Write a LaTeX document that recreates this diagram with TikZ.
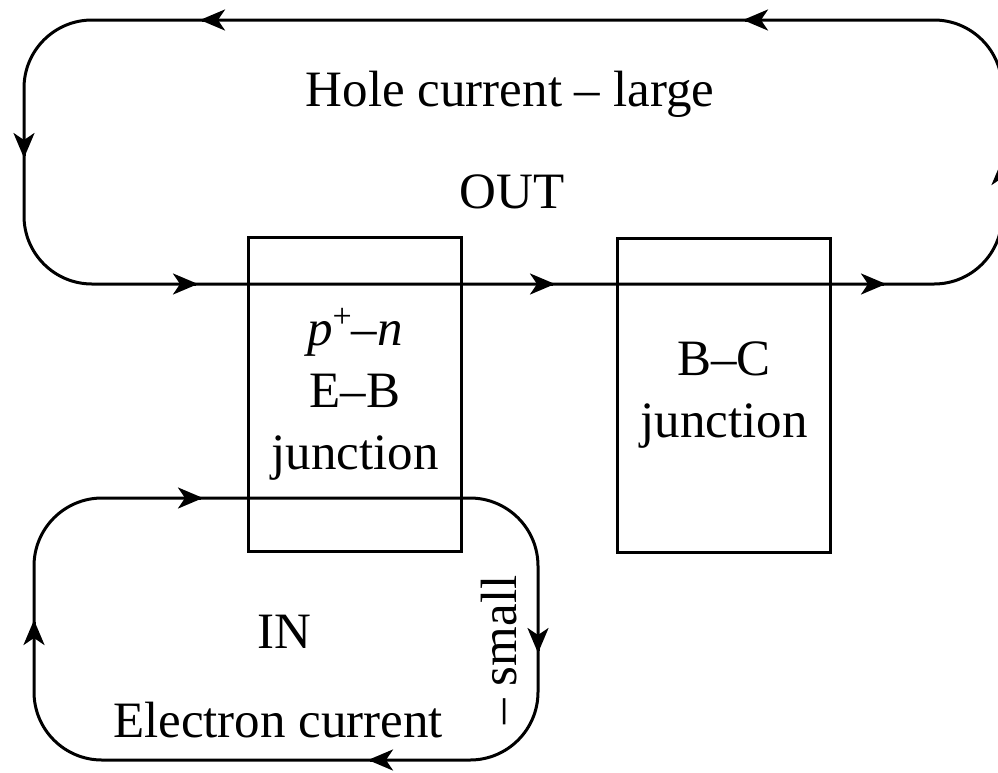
\documentclass[tikz,border=0pt]{standalone}
\usepackage{fontspec}
\setmainfont{Liberation Serif}
\usetikzlibrary{arrows.meta,calc}
\begin{document}
\begin{tikzpicture}[x=1pt,y=-1pt,
  loopline/.style={line width=3pt,rounded corners=68pt},
  junc/.style={draw,line width=3pt,minimum width=213pt,minimum height=314pt,align=center,inner sep=0pt,font=\fontsize{51}{62}\selectfont},
  lbl/.style={anchor=base,inner sep=0pt,font=\fontsize{51}{62}\selectfont},
  arr/.style={line width=3pt,-{Stealth[length=25pt,width=21pt,inset=7pt]}}]
\useasboundingbox (0,0) rectangle (998,772);
% hole current loop
\coordinate (h1) at (24,20);
\coordinate (h2) at (1002,20);
\coordinate (h3) at (1002,284);
\coordinate (h4) at (24,284);
\draw[loopline] (h1) -- (h2) -- (h3) -- (h4) -- cycle;
% electron current loop
\coordinate (e1) at (34,498);
\coordinate (e2) at (538,498);
\coordinate (e3) at (538,760);
\coordinate (e4) at (34,760);
\draw[loopline] (e1) -- (e2) -- (e3) -- (e4) -- cycle;
% junction boxes
\node[junc] (eb) at (355,394.5) {\textit{p}\raisebox{0.36em}{\fontsize{34}{34}\selectfont +}–\textit{n}\\E–B\\junction};
\node[junc] (bc) at (724,395) {B–C\\junction};
% arrow tips on the hole loop
\coordinate (ht1) at (200,20);
\coordinate (ht2) at (743,20);
\coordinate (hl1) at (24,158);
\coordinate (hb1) at (198,284);
\coordinate (hb2) at (555,284);
\coordinate (hb3) at (886,284);
\coordinate (hr1) at (1002,160);
\draw[arr] ($(ht1)+(2,0)$) -- (ht1);
\draw[arr] ($(ht2)+(2,0)$) -- (ht2);
\draw[arr] ($(hl1)+(0,-2)$) -- (hl1);
\draw[arr] ($(hb1)+(-2,0)$) -- (hb1);
\draw[arr] ($(hb2)+(-2,0)$) -- (hb2);
\draw[arr] ($(hb3)+(-2,0)$) -- (hb3);
\draw[arr] ($(hr1)+(0,2)$) -- (hr1);
% arrow tips on the electron loop
\coordinate (et1) at (203,498);
\coordinate (er1) at (538,653);
\coordinate (eb1) at (368,760);
\coordinate (el1) at (34,620);
\draw[arr] ($(et1)+(-2,0)$) -- (et1);
\draw[arr] ($(er1)+(0,-2)$) -- (er1);
\draw[arr] ($(eb1)+(2,0)$) -- (eb1);
\draw[arr] ($(el1)+(0,2)$) -- (el1);
% labels
\node[lbl] (hole) at (510,106) {Hole current – large};
\node[lbl] (out) at (512,208) {OUT};
\node[lbl] (in) at (284,648) {IN};
\node[lbl] (elec) at (278,737) {Electron current};
\node[inner sep=0pt,rotate=90,font=\fontsize{51}{62}\selectfont] (small) at (499,650) {– small};
\end{tikzpicture}
\end{document}
